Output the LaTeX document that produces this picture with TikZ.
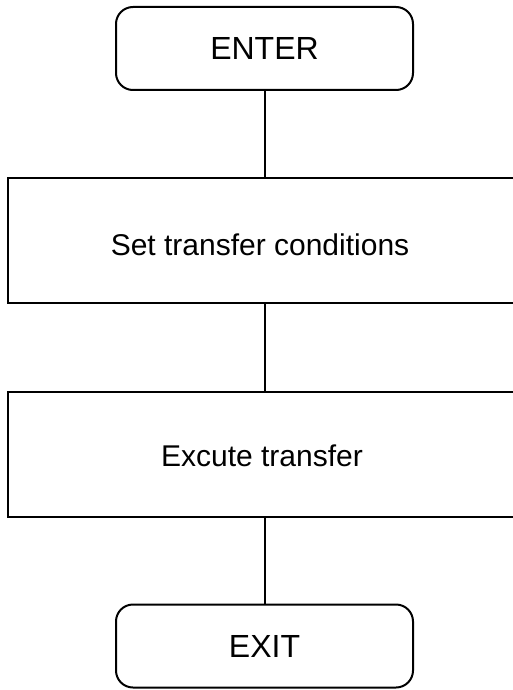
\documentclass[tikz,border=0pt]{standalone}
\usepackage{fontspec}
\setmainfont{Liberation Sans}
\begin{document}
\begin{tikzpicture}[x=1pt,y=1pt,
  term/.style={draw=black,line width=2pt,rounded corners=17pt,minimum width=297pt,minimum height=83pt,inner sep=0pt,font=\fontsize{32}{38}\selectfont},
  procbox/.style={draw=black,line width=2pt,minimum width=540pt,minimum height=125pt,inner sep=0pt},
  conn/.style={draw=black,line width=2pt},
  lbl/.style={font=\fontsize{30}{36}\selectfont}]
\useasboundingbox (0,0) rectangle (512,-690);
\node[term] (enter) at (264.5,-48.5) {ENTER};
\node[procbox] (set) at (278,-240.5) {};
\node[lbl] (setl) at (260,-245) {Set transfer conditions};
\node[procbox] (exec) at (278,-454) {};
\node[lbl] (execl) at (262,-456) {Excute transfer};
\node[term] (exit) at (264.5,-646) {EXIT};
\draw[conn] (enter.south) -- (set.north -| enter.south);
\draw[conn] (set.south -| enter.south) -- (exec.north -| enter.south);
\draw[conn] (exec.south -| enter.south) -- (exit.north);
\end{tikzpicture}
\end{document}
